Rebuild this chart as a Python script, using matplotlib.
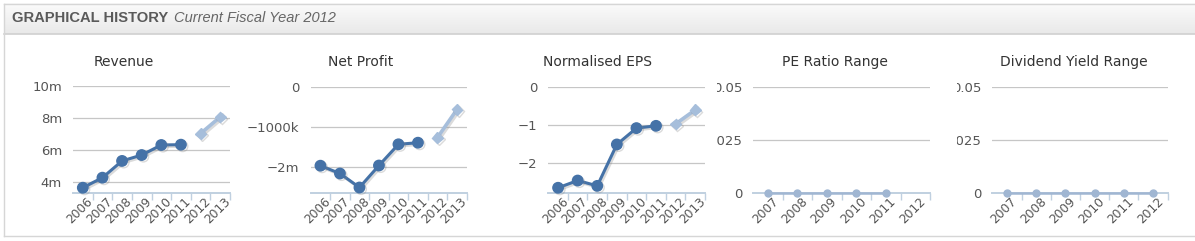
import matplotlib
matplotlib.use("Agg")
import matplotlib.pyplot as plt
import matplotlib.patheffects as pe
from matplotlib.colors import LinearSegmentedColormap
from matplotlib.ticker import FixedLocator, FixedFormatter
from matplotlib.transforms import Bbox, ScaledTranslation
import numpy as np

plt.rcParams['font.family'] = ['DejaVu Sans']

# ---- data ----
years_fin = ['2006', '2007', '2008', '2009', '2010', '2011', '2012', '2013']
years_ratio = ['2007', '2008', '2009', '2010', '2011', '2012']

revenue_actual = [3.62, 4.25, 5.30, 5.67, 6.30, 6.32]      # millions, 2006-2011
revenue_forecast = [7.02, 8.06]                              # 2012-2013
profit_actual = [-1.975, -2.17, -2.52, -1.97, -1.44, -1.40]  # millions
profit_forecast = [-1.27, -0.57]
eps_actual = [-2.66, -2.47, -2.61, -1.52, -1.09, -1.03]
eps_forecast = [-0.98, -0.61]
pe_values = [0, 0, 0, 0, 0]          # 2007-2011
div_values = [0, 0, 0, 0, 0, 0]      # 2007-2012

W, H = 1195, 241
DARK = '#4572a7'
LIGHT = '#a6bedb'
FAINT = '#a0b6d2'
AXIS = '#c0d0e0'
GRID = '#c6c6c6'
TXT = '#555555'

fig = plt.figure(figsize=(W / 100, H / 100), dpi=100)

# background frame + header
bg = fig.add_axes([0, 0, 1, 1])
bg.set_xlim(0, W)
bg.set_ylim(H, 0)
bg.axis('off')
grad = np.linspace(0, 1, 50).reshape(-1, 1)
bg.imshow(grad, extent=(4, 1195, 34, 3),
          cmap=LinearSegmentedColormap.from_list('hd', ['#fbfbfb', '#e9e9e9']),
          aspect='auto', zorder=0)
bg.plot([4, 1195], [3.5, 3.5], color='#d6d6d6', lw=1)
bg.plot([4, 1195], [34, 34], color='#d0d0d0', lw=1.2)
bg.plot([4.5, 4.5], [3.5, 236], color='#d6d6d6', lw=1)
bg.plot([4, 1195], [236, 236], color='#d6d6d6', lw=1)
bg.text(12, 18.5, 'GRAPHICAL HISTORY', fontfamily='Liberation Sans', fontweight='bold',
        fontsize=10.6, color='#5a5a5a', va='center', ha='left')
bg.text(174, 18.5, 'Current Fiscal Year 2012', fontfamily='Liberation Sans', style='italic',
        fontsize=10.5, color='#666666', va='center', ha='left')


def px_axes(x0, x1, y0, y1):
    return fig.add_axes([x0 / W, 1 - y1 / H, (x1 - x0) / W, (y1 - y0) / H])


def style(ax, cats, title, tcx, yticks, ylabels, ylim):
    n = len(cats)
    ax.set_xlim(-0.5, n - 0.5)
    ax.set_ylim(*ylim)
    ax.patch.set_alpha(0)
    for s in ['top', 'left', 'right']:
        ax.spines[s].set_visible(False)
    ax.spines['bottom'].set_color(AXIS)
    ax.spines['bottom'].set_linewidth(1.4)
    ax.spines['bottom'].set_zorder(1)
    ax.xaxis.set_major_locator(FixedLocator(range(n)))
    ax.xaxis.set_major_formatter(FixedFormatter(cats))
    ax.xaxis.set_minor_locator(FixedLocator([i + 0.5 for i in range(n)]))
    ax.tick_params(axis='x', which='major', length=0, pad=1.5, labelsize=8.8, labelcolor=TXT)
    ax.tick_params(axis='x', which='minor', length=5, width=1, color=AXIS)
    off = ScaledTranslation(3.5 / 100, 0, fig.dpi_scale_trans)
    for lab in ax.get_xticklabels():
        lab.set_rotation(45)
        lab.set_ha('right')
        lab.set_va('top')
        lab.set_rotation_mode('anchor')
        lab.set_transform(lab.get_transform() + off)
    ax.yaxis.set_major_locator(FixedLocator(yticks))
    ax.yaxis.set_major_formatter(FixedFormatter(ylabels))
    ax.tick_params(axis='y', length=0, pad=8, labelsize=9.5, labelcolor=TXT)
    ax.grid(axis='y', color=GRID, lw=0.9)
    ax.set_axisbelow(True)
    fig.text(tcx / W, 1 - 62 / H, title, ha='center', va='center', fontsize=10, color='#333333')


shadow = [pe.SimpleLineShadow(offset=(1.2, -1.2), shadow_color='#888888', alpha=0.3),
          pe.Normal()]


def fin_series(ax, actual, forecast):
    xa = list(range(len(actual)))
    xf = list(range(len(actual), len(actual) + len(forecast)))
    ax.plot(xa, actual, color=DARK, lw=2.2, marker='o', ms=7.5, zorder=3,
            path_effects=shadow, clip_on=False)
    ax.plot(xf, forecast, color=LIGHT, lw=2.6, marker='D', ms=5.5, zorder=3,
            path_effects=shadow, clip_on=False)


# Revenue
ax1 = px_axes(73, 230, 86, 193.3)
style(ax1, years_fin, 'Revenue', 124, [4, 6, 8, 10], ['4m', '6m', '8m', '10m'], (3.27, 10))
fin_series(ax1, revenue_actual, revenue_forecast)

# Net Profit
ax2 = px_axes(310.7, 466.7, 86.7, 192.7)
style(ax2, years_fin, 'Net Profit', 361, [-2, -1, 0], ['\u22122m', '\u22121000k', '0'], (-2.65, 0))
fin_series(ax2, profit_actual, profit_forecast)

# Normalised EPS
ax3 = px_axes(548.3, 705, 86.7, 192.7)
style(ax3, years_fin, 'Normalised EPS', 598, [-2, -1, 0], ['\u22122', '\u22121', '0'], (-2.79, 0))
fin_series(ax3, eps_actual, eps_forecast)

# PE Ratio Range
ax4 = px_axes(753.3, 930, 86.7, 192.7)
style(ax4, years_ratio, 'PE Ratio Range', 835, [0, 0.025, 0.05], ['0', '0.025', '0.05'], (0, 0.05))
ax4.plot(range(len(pe_values)), pe_values, color=FAINT, lw=1.8, marker='o', ms=5, zorder=3,
         clip_on=False)

# Dividend Yield Range
ax5 = px_axes(992.3, 1167.7, 86.7, 192.7)
style(ax5, years_ratio, 'Dividend Yield Range', 1074, [0, 0.025, 0.05], ['0', '0.025', '0.05'], (0, 0.05))
ax5.plot(range(len(div_values)), div_values, color=FAINT, lw=1.8, marker='o', ms=5, zorder=3,
         clip_on=False)

# chart containers clip their own overflowing labels
fig.canvas.draw()
for ax, left in [(ax4, 716.5), (ax5, 956.5)]:
    box = Bbox.from_extents(left, 0, W, H)
    for t in ax.yaxis.get_major_ticks():
        t.label1.set_clip_box(box)
        t.label1.set_clip_on(True)

fig.savefig('out.png', dpi=100)
